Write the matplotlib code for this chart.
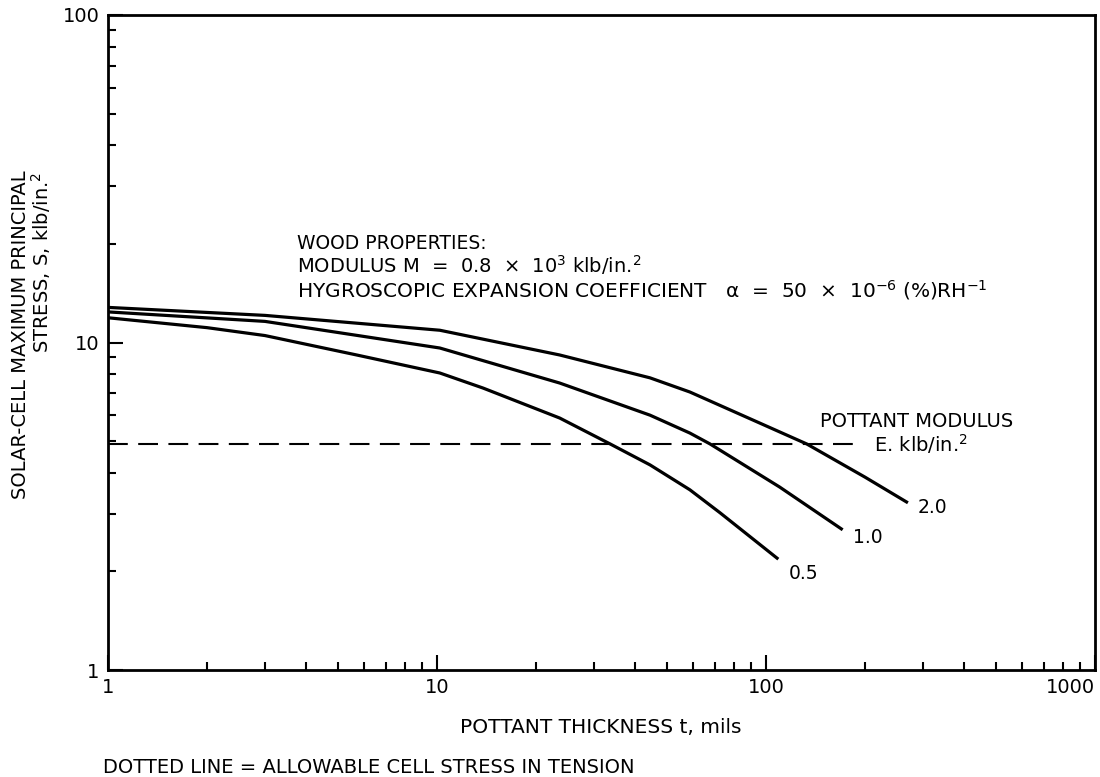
import numpy as np
import matplotlib.pyplot as plt

plt.rcParams['font.family'] = ['DejaVu Sans']
plt.rcParams['mathtext.fontset'] = 'dejavusans'

# Maximum principal stress S (klb/in.^2) vs pottant thickness t (mils)
# for pottant modulus E = 2.0, 1.0 and 0.5 klb/in.^2
t_20 = [1, 3, 10.2, 23.6, 44.4, 58.7, 133, 200, 270]
s_20 = [12.8, 12.1, 10.9, 9.16, 7.8, 7.06, 4.9, 3.88, 3.24]

t_10 = [1, 3, 10.2, 23.6, 44.4, 58.7, 67.6, 110, 171]
s_10 = [12.4, 11.6, 9.62, 7.52, 6.0, 5.29, 4.9, 3.62, 2.68]

t_05 = [1, 2, 3, 5.7, 10.2, 13.8, 23.6, 33.6, 44.4, 58.7, 72.5, 109]
s_05 = [11.9, 11.1, 10.5, 9.16, 8.07, 7.26, 5.88, 4.9, 4.23, 3.55, 3.02, 2.18]

modulus_labels = ['2.0', '1.0', '0.5']

# allowable cell stress in tension
t_allow = [1, 193]
s_allow = [4.9, 4.9]

W, H = 1100, 777
fig = plt.figure(figsize=(11, 7.77), dpi=100)
ax = fig.add_axes([108 / W, 107 / H, 987 / W, 655 / H])

ax.plot(t_allow, s_allow, color='black', lw=1.5, dashes=(9.5, 5))

curvas = [(t_20, s_20), (t_10, s_10), (t_05, s_05)]
offsets = [(10, -10), (10, -13), (10, -20)]
for (t, s), lab, off in zip(curvas, modulus_labels, offsets):
    ax.plot(t, s, color='black', lw=2.3, solid_capstyle='butt')
    ax.annotate(lab, (t[-1], s[-1]), xytext=off, textcoords='offset pixels',
                ha='left', va='baseline', fontsize=13.5)

ax.set_xscale('log')
ax.set_yscale('log')
ax.set_xlim(1, 1000)
ax.set_ylim(1, 100)
ax.set_xticks([1, 10, 100, 1000])
ax.set_xticklabels(['1', '10', '100', '1000'])
ax.get_xticklabels()[-1].set_horizontalalignment('right')
ax.set_yticks([1, 10, 100])
ax.set_yticklabels(['1', '10', '100'])
ax.tick_params(which='major', direction='in', length=11, width=1.5,
               labelsize=14, pad=6, top=False, right=False)
ax.tick_params(which='minor', direction='in', length=6, width=1.5,
               top=False, right=False)
for sp in ax.spines.values():
    sp.set_linewidth(2)

# axis titles and footnote placed by baseline in pixels
fig.text(601 / W, 1 - 733 / H, 'POTTANT THICKNESS t, mils',
         ha='center', va='baseline', fontsize=14.5)
fig.text(103 / W, 1 - 773 / H, 'DOTTED LINE = ALLOWABLE CELL STRESS IN TENSION',
         ha='left', va='baseline', fontsize=14)

fig.text(26 / W, 1 - 170 / H, 'SOLAR-CELL MAXIMUM PRINCIPAL',
         rotation=90, rotation_mode='anchor', ha='right', va='baseline', fontsize=14)
fig.text(49 / W, 1 - 172 / H, 'STRESS, S, klb/in.$^{2}$',
         rotation=90, rotation_mode='anchor', ha='right', va='baseline', fontsize=14)

# wood properties block, baselines at 249, 273 and 297 px
x0 = 0.1915
ax.text(x0, (670 - 249) / 655, 'WOOD PROPERTIES:', transform=ax.transAxes,
        ha='left', va='baseline', fontsize=13.5)
ax.text(x0, (670 - 273) / 655, 'MODULUS M  =  0.8  \u00d7  10$^{3}$ klb/in.$^{2}$',
        transform=ax.transAxes, ha='left', va='baseline', fontsize=14)
ax.text(x0, (670 - 297) / 655,
        'HYGROSCOPIC EXPANSION COEFFICIENT   \u03b1  =  50  \u00d7  10$^{-6}$ (%)RH$^{-1}$',
        transform=ax.transAxes, ha='left', va='baseline', fontsize=14.5)

ax.text(0.7214, 0.371, 'POTTANT MODULUS', transform=ax.transAxes,
        ha='left', va='baseline', fontsize=14)
ax.text(0.776, 0.333, 'E. klb/in.$^{2}$', transform=ax.transAxes,
        ha='left', va='baseline', fontsize=14)

fig.savefig('out.png', dpi=100)
